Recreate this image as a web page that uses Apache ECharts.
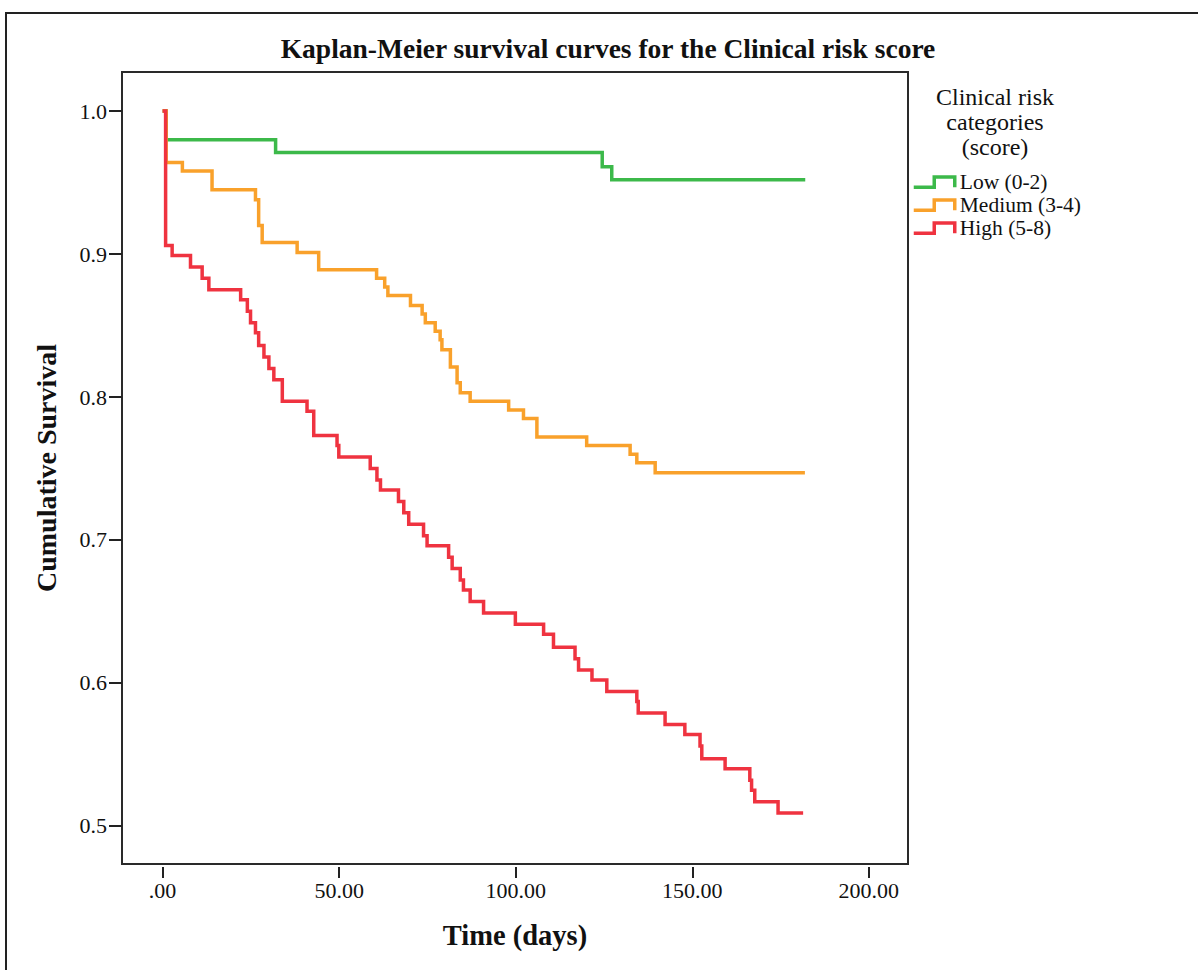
<!DOCTYPE html>
<html><head><meta charset="utf-8">
<script src="https://cdn.jsdelivr.net/npm/echarts@6/dist/echarts.min.js"></script>
<style>html,body{margin:0;padding:0;background:#fff}#c{width:1198px;height:970px}</style>
</head><body><div id="c"></div>
<script>
const chartTitle = 'Kaplan-Meier survival curves for the Clinical risk score';
const xAxisTitle = 'Time (days)';
const yAxisTitle = 'Cumulative Survival';
const legendTitle = 'Clinical risk\ncategories\n(score)';
const categories = ['Low (0-2)', 'Medium (3-4)', 'High (5-8)'];
const colors = ['#3cb94a', '#f9a12b', '#ef3340'];

const xTickValues = [0, 50, 100, 150, 200];
const xTickLabels = ['.00', '50.00', '100.00', '150.00', '200.00'];
const yTickValues = [0.5, 0.6, 0.7, 0.8, 0.9, 1.0];
const yTickLabels = ['0.5', '0.6', '0.7', '0.8', '0.9', '1.0'];

const lowTime = [0, 1, 32, 124.5, 127.2, 182];
const lowSurv = [1.0, 0.980, 0.971, 0.961, 0.952, 0.952];

const medTime = [0, 1, 5.6, 14, 26.3, 27.2, 28.2, 38.1, 44.2, 60.6, 62.9, 63.8, 70.2, 73.5, 74.4, 77.2, 78.6, 79.1, 81.5, 83.4, 84.3, 87.1, 98.0, 102.2, 106.0, 120.1, 132.4, 134.3, 139.5, 181.9];
const medSurv = [1.0, 0.964, 0.958, 0.945, 0.938, 0.920, 0.908, 0.901, 0.889, 0.883, 0.877, 0.871, 0.864, 0.858, 0.852, 0.846, 0.840, 0.833, 0.821, 0.810, 0.803, 0.797, 0.791, 0.785, 0.772, 0.766, 0.760, 0.754, 0.747, 0.747];

const highTime = [0, 0.85, 2.7, 7.9, 11.2, 13.1, 22.1, 24.0, 24.9, 26.3, 27.2, 28.7, 30.1, 31.5, 33.9, 40.9, 42.8, 49.4, 49.9, 58.8, 60.7, 61.7, 66.8, 68.3, 69.7, 73.9, 74.9, 81.0, 82.0, 84.3, 85.2, 87.1, 90.9, 99.9, 107.9, 110.7, 116.8, 117.8, 121.6, 125.8, 134.3, 134.7, 142.3, 147.9, 152.2, 152.7, 159.3, 166.3, 166.8, 167.7, 174.3, 181.4];
const highSurv = [1.0, 0.906, 0.899, 0.891, 0.883, 0.875, 0.868, 0.860, 0.852, 0.845, 0.836, 0.828, 0.820, 0.812, 0.797, 0.790, 0.773, 0.766, 0.758, 0.750, 0.742, 0.735, 0.727, 0.719, 0.711, 0.703, 0.696, 0.688, 0.680, 0.672, 0.665, 0.657, 0.649, 0.641, 0.634, 0.625, 0.617, 0.609, 0.602, 0.594, 0.587, 0.579, 0.571, 0.564, 0.556, 0.547, 0.540, 0.532, 0.525, 0.517, 0.509, 0.509];

const serif = '"Liberation Serif", "Times New Roman", serif';
const zip = (a, b) => a.map((t, i) => [t, b[i]]);
const seriesData = [zip(lowTime, lowSurv), zip(medTime, medSurv), zip(highTime, highSurv)];

const chart = echarts.init(document.getElementById('c'), null, { renderer: 'svg' });
const legendIcon = 'path://M0,11 L20,11 L20,1 L40,1 L40,11';

chart.setOption({
  animation: false,
  backgroundColor: '#ffffff',
  graphic: [
    { type: 'polyline', shape: { points: [[6, 975], [6, 13], [1205, 13]] }, style: { stroke: '#222', lineWidth: 2, fill: null } },
    { type: 'text', x: 608, y: 48, style: { text: chartTitle, font: 'bold 27.5px ' + serif, fill: '#111', textAlign: 'center', textVerticalAlign: 'middle' } },
    { type: 'text', x: 995, y: 122, style: { text: legendTitle, font: '24px ' + serif, fill: '#111', textAlign: 'center', textVerticalAlign: 'middle', lineHeight: 25 } }
  ],
  grid: { left: 122, top: 72, width: 786, height: 792, show: true, borderColor: '#2a2a2a', borderWidth: 2, backgroundColor: 'transparent' },
  legend: {
    orient: 'vertical', left: 912, top: 171, padding: 0,
    itemWidth: 41, itemHeight: 12, itemGap: 1, icon: legendIcon,
    selectedMode: false,
    textStyle: { fontFamily: serif, fontSize: 21.5, color: '#111', lineHeight: 22 },
    data: categories.map((c, i) => ({ name: c, itemStyle: { color: 'rgba(0,0,0,0)', borderColor: colors[i], borderWidth: 3.5 } }))
  },
  xAxis: {
    type: 'value', min: -11.5, max: 211.1, offset: 3,
    name: xAxisTitle, nameLocation: 'middle', nameGap: 54,
    nameTextStyle: { fontFamily: serif, fontSize: 28.5, fontWeight: 'bold', color: '#111' },
    axisLine: { show: false, onZero: false },
    axisTick: { show: true, length: 11, customValues: xTickValues, lineStyle: { color: '#222', width: 2 } },
    axisLabel: { customValues: xTickValues, margin: 12, fontFamily: serif, fontSize: 22, color: '#111',
      formatter: v => { const k = xTickValues.indexOf(v); return k >= 0 ? xTickLabels[k] : ''; } },
    splitLine: { show: false }
  },
  yAxis: {
    type: 'value', min: 0.4734, max: 1.0273,
    name: yAxisTitle, nameLocation: 'middle', nameGap: 62, nameRotate: 90,
    nameTextStyle: { fontFamily: serif, fontSize: 28, fontWeight: 'bold', color: '#111' },
    axisLine: { show: false, onZero: false },
    axisTick: { show: true, length: 13, customValues: yTickValues, lineStyle: { color: '#222', width: 2 } },
    axisLabel: { customValues: yTickValues, margin: 15, fontFamily: serif, fontSize: 22, color: '#111',
      formatter: v => { const k = yTickValues.findIndex(t => Math.abs(t - v) < 1e-9); return k >= 0 ? yTickLabels[k] : ''; } },
    splitLine: { show: false }
  },
  series: categories.map((c, i) => ({
    name: c, type: 'line', step: 'end', data: seriesData[i],
    showSymbol: false, symbol: 'none',
    lineStyle: { color: colors[i], width: 3.5, join: 'miter', cap: 'butt' },
    itemStyle: { color: colors[i] },
    emphasis: { disabled: true }, silent: true, z: 2 + i
  }))
});
</script></body></html>
